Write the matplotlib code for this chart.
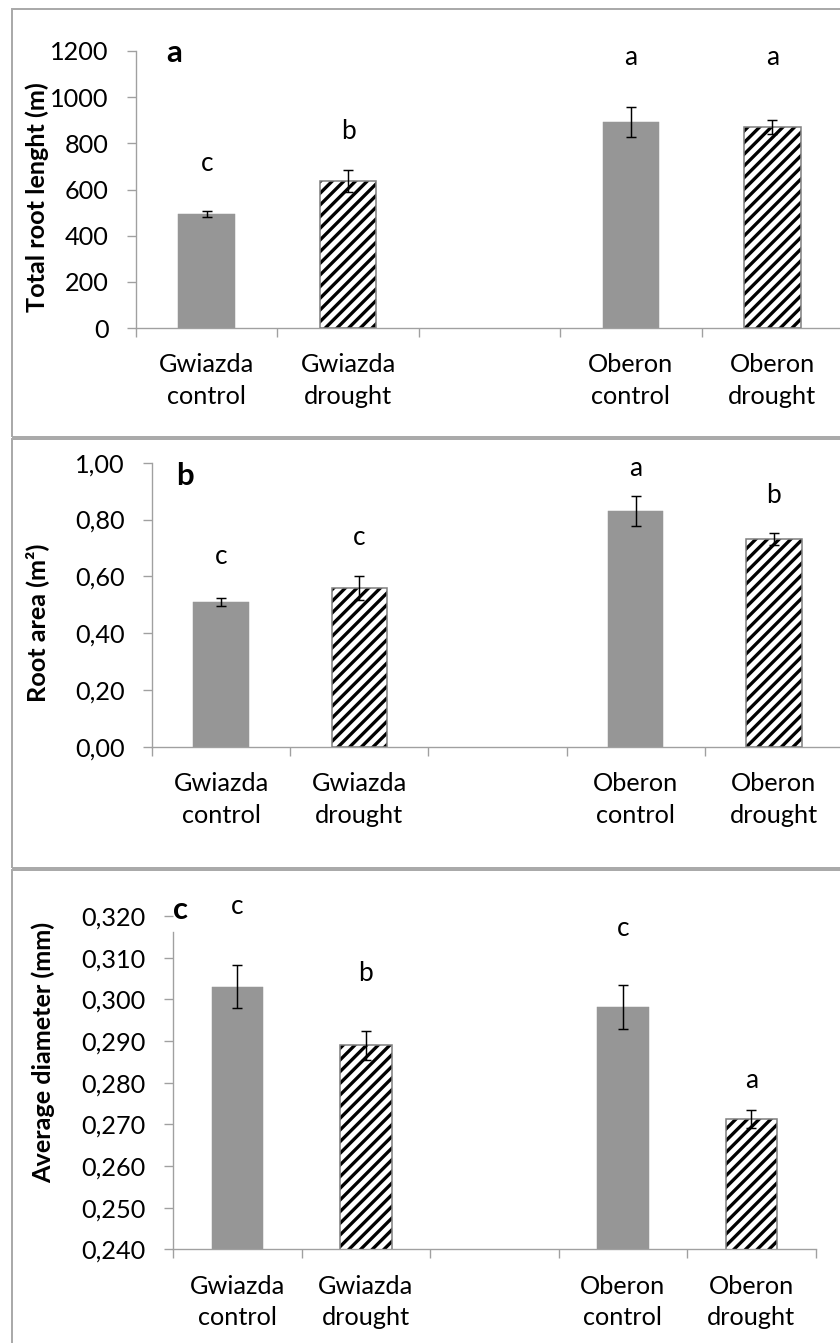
import matplotlib
matplotlib.use('Agg')
import matplotlib.pyplot as plt
from matplotlib.patches import Rectangle
from matplotlib.ticker import FixedLocator, FuncFormatter

plt.rcParams['font.family'] = ['Lato', 'DejaVu Sans']
plt.rcParams['hatch.linewidth'] = 3.4

# ---------------- data ----------------
categories = ['Gwiazda\ncontrol', 'Gwiazda\ndrought', '', 'Oberon\ncontrol', 'Oberon\ndrought']
bar_categories = ['Gwiazda\ncontrol', 'Gwiazda\ndrought', 'Oberon\ncontrol', 'Oberon\ndrought']
treatments = ['control', 'drought', 'control', 'drought']

length_vals = [494, 636, 892, 870]
length_err = [13, 47, 65, 30]
length_letters = ['c', 'b', 'a', 'a']
length_letter_y = [714, 853, 1173, 1173]
length_ticks = [0, 200, 400, 600, 800, 1000, 1200]

area_vals = [0.508, 0.559, 0.830, 0.731]
area_err = [0.014, 0.042, 0.054, 0.022]
area_letters = ['c', 'c', 'a', 'b']
area_letter_y = [0.669, 0.735, 0.981, 0.883]
area_ticks = [0.0, 0.2, 0.4, 0.6, 0.8, 1.0]

diam_vals = [0.3030, 0.2890, 0.2982, 0.2713]
diam_err = [0.0052, 0.0035, 0.0053, 0.0022]
diam_letters = ['c', 'b', 'c', 'a']
diam_letter_y = [0.3222, 0.3063, 0.3169, 0.2804]
diam_ticks = [0.24, 0.25, 0.26, 0.27, 0.28, 0.29, 0.30, 0.31, 0.32]

# ---------------- figure ----------------
W, H = 840, 1343
DPI = 70
fig = plt.figure(figsize=(W / DPI, H / DPI), dpi=DPI)

AX_COL = '#a0a0a0'
BOX_COL = '#a8a8a8'
GRAY = '#969696'
FS = 26

# panel frames
for (top, bot) in [(9, 436.5), (438.5, 868), (870, 1360)]:
    fig.patches.append(Rectangle((12 / W, 1 - bot / H), (900 - 12) / W, (bot - top) / H,
                                 transform=fig.transFigure, fill=False,
                                 edgecolor=BOX_COL, linewidth=2.0, zorder=0))

xpos = [categories.index(c) for c in bar_categories]


def panel(rect_px, vals, errs, letters, letter_y, ticks, fmt, ylim, spine_top,
          ylabel, ylabel_xy, plabel, plabel_xy):
    l, r, t, b = rect_px
    ax = fig.add_axes([l / W, 1 - b / H, (r - l) / W, (b - t) / H])
    ax.patch.set_alpha(0)
    for x, v, tr in zip(xpos, vals, treatments):
        if tr == 'control':
            ax.bar(x, v, width=0.4, color=GRAY, edgecolor=GRAY, linewidth=0.5, zorder=2)
        else:
            ax.bar(x, v, width=0.4, color='white', edgecolor='black', hatch='//',
                   linewidth=0, zorder=2)
            ax.bar(x, v, width=0.4, fill=False, edgecolor='#808080', linewidth=1.6, zorder=3)
    ax.errorbar(xpos, vals, yerr=errs, fmt='none', ecolor='black', elinewidth=1.5,
                capsize=5.5, capthick=1.5, zorder=4)
    for x, ly, lt in zip(xpos, letter_y, letters):
        ax.text(x, ly, lt, ha='center', va='center', fontsize=27, color='black', clip_on=False)

    ax.set_xlim(-0.5, len(categories) - 0.5)
    ax.set_ylim(*ylim)
    for s in ['top', 'right']:
        ax.spines[s].set_visible(False)
    for s in ['left', 'bottom']:
        ax.spines[s].set_color(AX_COL)
        ax.spines[s].set_linewidth(1.4)
    ax.spines['left'].set_bounds(ylim[0], spine_top)

    ax.xaxis.set_major_locator(FixedLocator(range(len(categories))))
    ax.set_xticklabels(categories, fontsize=FS, linespacing=1.45)
    ax.xaxis.set_minor_locator(FixedLocator([i - 0.5 for i in range(len(categories) + 1)]))
    ax.tick_params(axis='x', which='major', length=0, pad=26)
    ax.tick_params(axis='x', which='minor', length=9, width=1.4, color=AX_COL, direction='out')

    ax.yaxis.set_major_locator(FixedLocator(ticks))
    ax.yaxis.set_major_formatter(FuncFormatter(fmt))
    ax.tick_params(axis='y', which='major', length=9, width=1.4, color=AX_COL,
                   direction='out', labelsize=FS, pad=19)
    for tk in ax.yaxis.get_major_ticks():
        if tk.get_loc() > spine_top + 1e-9:
            tk.tick1line.set_visible(False)

    fig.text(ylabel_xy[0] / W, 1 - ylabel_xy[1] / H, ylabel, rotation=90, ha='center',
             va='center', fontsize=26, fontweight='bold')
    fig.text(plabel_xy[0] / W, 1 - plabel_xy[1] / H, plabel, ha='center', va='center',
             fontsize=32, fontweight='bold')
    return ax


panel((136, 843, 51, 328), length_vals, length_err, length_letters, length_letter_y,
      length_ticks, lambda v, p: f'{v:.0f}', (0, 1200), 1200,
      'Total root lenght (m)', (37, 197), 'a', (174, 53))

panel((152, 843, 462.7, 746.7), area_vals, area_err, area_letters, area_letter_y,
      area_ticks, lambda v, p: f'{v:.2f}'.replace('.', ','), (0, 1.0), 1.0,
      'Root area (m²)', (37, 623), 'b', (185, 476))

panel((173, 815.7, 916, 1249.3), diam_vals, diam_err, diam_letters, diam_letter_y,
      diam_ticks, lambda v, p: f'{v:.3f}'.replace('.', ','), (0.24, 0.32), 0.3162,
      'Average diameter (mm)', (43, 1052), 'c', (180, 910))

fig.savefig('out.png', dpi=DPI)
